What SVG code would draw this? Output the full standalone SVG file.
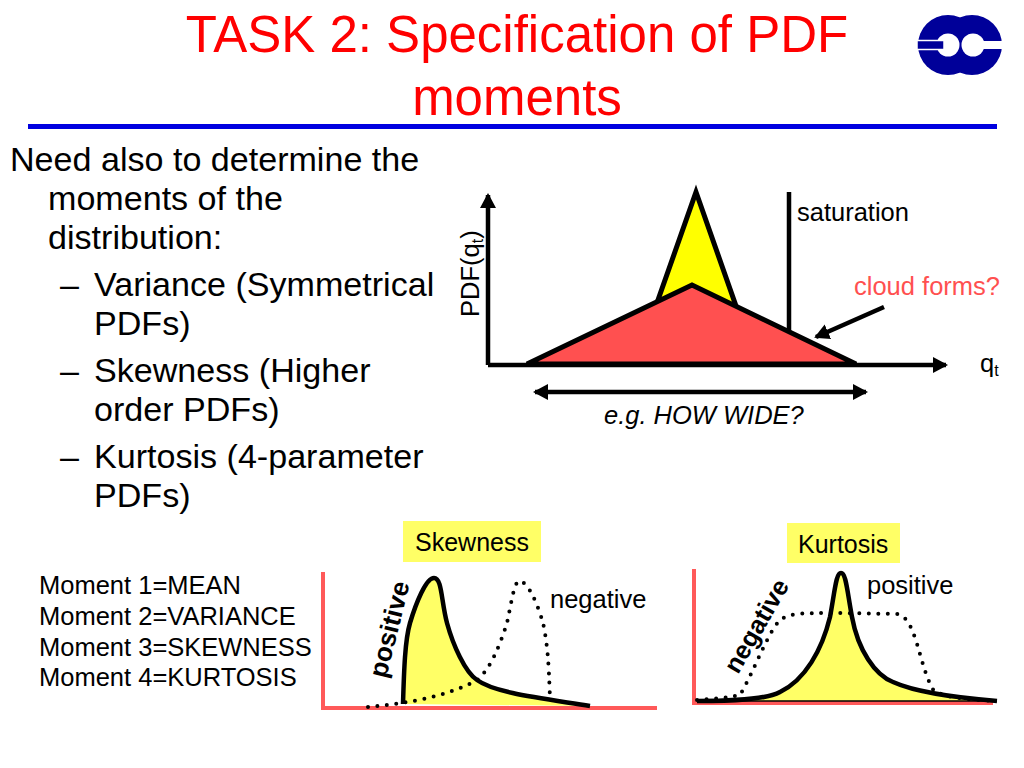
<svg xmlns="http://www.w3.org/2000/svg" width="1024" height="768" viewBox="0 0 1024 768">
<style>
text{font-family:"Liberation Sans",Arial,sans-serif;fill:#000}
.t{font-size:51px;fill:#f00;text-anchor:middle}
.b{font-size:34.100px}
.s{font-size:25.500px}
.l{font-size:25px}
.c{fill:none;stroke:#000;stroke-width:4.500;stroke-linejoin:round}
.k{stroke:#000;stroke-width:4.500;fill:none}
.d{fill:none;stroke:#000;stroke-width:4;stroke-linecap:round;stroke-dasharray:0 9.500}
.a{fill:none;stroke:#ff5959;stroke-width:4}
.f{fill:#ffff66;stroke:none}
.h{fill:#ffff66}
</style>
<defs>
<marker id="ah" markerUnits="userSpaceOnUse" markerWidth="16" markerHeight="18" refX="13" refY="9" orient="auto-start-reverse"><path d="M0 1L15 9L0 17z" fill="#000"/></marker>
</defs>
<g id="title">
<text class="t" x="517" y="52">TASK 2: Specification of PDF</text>
<text class="t" x="517" y="115">moments</text>
<rect x="28" y="124" width="969" height="5" fill="#0000e0"/>
</g>
<g id="logo">
<circle cx="948" cy="45" r="30" fill="#000099"/>
<circle cx="972" cy="45" r="30" fill="#000099"/>
<circle cx="948" cy="45" r="11.500" fill="#fff"/>
<circle cx="973" cy="45" r="11.500" fill="#fff"/>
<rect x="973" y="41" width="31" height="8" fill="#fff"/>
<rect x="917" y="40.500" width="27" height="9" fill="#000099" stroke="#fff" stroke-width="1.500"/>
</g>
<g id="body">
<text class="b" x="10" y="170.500">Need also to determine the</text>
<text class="b" x="48" y="209.500">moments of the</text>
<text class="b" x="48" y="248.500">distribution:</text>
<text class="b" x="60" y="295.500">–</text>
<text class="b" x="94" y="295.500">Variance (Symmetrical</text>
<text class="b" x="94" y="334.500">PDFs)</text>
<text class="b" x="60" y="382">–</text>
<text class="b" x="94" y="382">Skewness (Higher</text>
<text class="b" x="94" y="421">order PDFs)</text>
<text class="b" x="60" y="468">–</text>
<text class="b" x="94" y="468">Kurtosis (4-parameter</text>
<text class="b" x="94" y="507">PDFs)</text>
</g>
<g id="moments">
<text class="s" x="39" y="594">Moment 1=MEAN</text>
<text class="s" x="39" y="625">Moment 2=VARIANCE</text>
<text class="s" x="39" y="656">Moment 3=SKEWNESS</text>
<text class="s" x="39" y="686">Moment 4=KURTOSIS</text>
</g>
<g id="pdf-chart">
<path d="M696 192L736 306L658 300z" fill="#ffff00" stroke="#000" stroke-width="5" stroke-linejoin="miter"/>
<path d="M527 364L692 285L856 364z" fill="#ff5050" stroke="#000" stroke-width="5" stroke-linejoin="miter"/>
<text class="s" x="797" y="221">saturation</text>
<text class="s" x="854" y="295" style="fill:#ff5050">cloud forms?</text>
<text class="s" x="980" y="372">q<tspan font-size="16" dy="4">t</tspan></text>
<text class="s" x="604" y="424" font-style="italic">e.g. HOW WIDE?</text>
<text class="s" transform="translate(479 317) rotate(-90)">PDF(q<tspan font-size="16" dy="4">t</tspan><tspan dy="-4">)</tspan></text>
</g>
<g id="skewness-chart">
<rect x="403" y="521" width="138" height="41" class="h"/>
<text class="l" x="415" y="551">Skewness</text>
<path class="f" d="M403 704C404 670 405 640 410 623C416 603 426 578 434 578C442 578 441 600 447 623C453 645 465 672 477 680C495 693 540 698 590 706z"/>
<path class="a" d="M323 572V708H657"/>
<path class="c" d="M403 704C404 670 405 640 410 623C416 603 426 578 434 578C442 578 441 600 447 623C453 645 465 672 477 680C495 693 540 698 590 706"/>
<path class="d" d="M368 707C400 704 445 698 477 680C490 670 500 645 507 623C511 605 514 582 519 581C528 581 538 605 543 623C549 650 549 680 550 697"/>
<text font-size="26" font-weight="bold" transform="translate(386 679) rotate(-76)">positive</text>
<text class="s" x="550" y="608">negative</text>
</g>
<g id="kurtosis-chart">
<rect x="787" y="523" width="113" height="40" class="h"/>
<text class="l" x="798" y="553">Kurtosis</text>
<path class="f" d="M697 701C730 701 765 700 780 692C805 680 822 650 830 617C835 590 836 573 841 573C846 573 847 590 852 617C858 650 875 675 893 682C915 692 950 697 997 701z"/>
<path class="a" d="M694 569V703H993"/>
<path d="M697 701H997" stroke="#000" stroke-width="1.500" fill="none"/>
<path class="c" d="M697 701C730 701 765 700 780 692C805 680 822 650 830 617C835 590 836 573 841 573C846 573 847 590 852 617C858 650 875 675 893 682C915 692 950 697 997 701"/>
<path class="d" d="M697 700C715 699 732 697 740 695C752 675 765 640 776 625C784 613 795 613 840 613L897 614C909 616 914 635 918 647C923 665 928 682 934 691C950 699 975 700 997 701"/>
<text font-size="25.500" font-weight="bold" transform="translate(738 675) rotate(-60)">negative</text>
<text class="s" x="867" y="594">positive</text>
</g>
<g id="connectors">
<path class="k" d="M488 365V195" marker-end="url(#ah)"/>
<path class="k" d="M488 365H946" marker-end="url(#ah)"/>
<path class="k" d="M789 192V331"/>
<path class="k" d="M884 307L816 337" marker-end="url(#ah)"/>
<path class="k" d="M535 392H866" marker-start="url(#ah)" marker-end="url(#ah)"/>
</g>
</svg>
